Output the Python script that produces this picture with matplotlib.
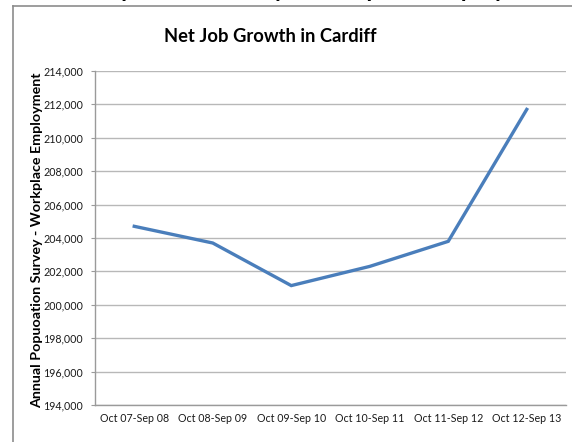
import matplotlib
matplotlib.use("Agg")
import matplotlib.pyplot as plt
from matplotlib.lines import Line2D

periods = ["Oct 07-Sep 08", "Oct 08-Sep 09", "Oct 09-Sep 10",
           "Oct 10-Sep 11", "Oct 11-Sep 12", "Oct 12-Sep 13"]
employment = [204700, 203700, 201150, 202300, 203800, 211700]
y_ticks = list(range(194000, 214001, 2000))
y_tick_labels = [f"{v:,}" for v in y_ticks]

heading = "Annual Population Survey - Workplace Employment"
title = "Net Job Growth in Cardiff"
y_label = "Annual Popuoation Survey - Workplace Employment"

W, H = 572, 442
FONT = "Lato"

fig = plt.figure(figsize=(W / 100, H / 100), dpi=100)
fig.patch.set_facecolor("white")
renderer = fig.canvas.get_renderer()


def text_width(s, **kw):
    t = fig.text(0, 0, s, **kw)
    w = t.get_window_extent(renderer).width
    t.remove()
    return w


# page heading sitting above the chart frame, only its descenders reach the frame area
head_kw = dict(fontsize=17, fontweight="bold", family=FONT)
span = text_width("pulation Survey - Workplace Em", **head_kw)
head_kw["fontsize"] *= 340 / span
lead = text_width("Annual Po", **head_kw)
fig.text((123 - lead - 2) / W, 1 + 3.3 / H, heading, ha="left", va="baseline",
         color="black", **head_kw)

# chart frame
fig.add_artist(Line2D([13 / W, 13 / W], [0, 1 - 6 / H], transform=fig.transFigure,
                      color="#8c8c8c", lw=1.2))
fig.add_artist(Line2D([13 / W, 1], [1 - 6 / H, 1 - 6 / H], transform=fig.transFigure,
                      color="#8c8c8c", lw=1.2))

left, right = 95 / W, 566 / W
bottom, top = 1 - 405 / H, 1 - 71 / H
ax = fig.add_axes([left, bottom, right - left, top - bottom])

x = list(range(len(periods)))
ax.plot(x, employment, color="#4a7ebb", lw=2.4, solid_joinstyle="miter")

ax.set_xlim(-0.5, len(periods) - 0.5)
ax.set_ylim(194000, 214000)
ax.set_yticks(y_ticks)
ax.set_yticklabels(y_tick_labels, fontsize=7.7, family=FONT, color="#1a1a1a")
ax.set_xticks(x)
ax.set_xticklabels(periods, fontsize=7.7, family=FONT, color="#1a1a1a")
ax.yaxis.grid(True, color="#b8b8b8", lw=1.0)
ax.set_axisbelow(True)
for s in ["top", "right"]:
    ax.spines[s].set_visible(False)
for s in ["left", "bottom"]:
    ax.spines[s].set_color("#9a9a9a")
    ax.spines[s].set_linewidth(1.0)
ax.tick_params(axis="y", length=3, color="#9a9a9a", pad=5.5)
ax.tick_params(axis="x", length=0, pad=6)

ax.set_ylabel(y_label, fontsize=10.3, fontweight="bold", family=FONT)
ax.yaxis.set_label_coords((37 - 95) / (566 - 95), (405 - 240) / (405 - 71))
ax.yaxis.label.set_va("center")
ax.yaxis.label.set_ha("center")

fig.text(270 / W, 1 - 36 / H, title, fontsize=13.2, fontweight="bold",
         family=FONT, ha="center", va="center")

fig.savefig("out.png", dpi=100)
